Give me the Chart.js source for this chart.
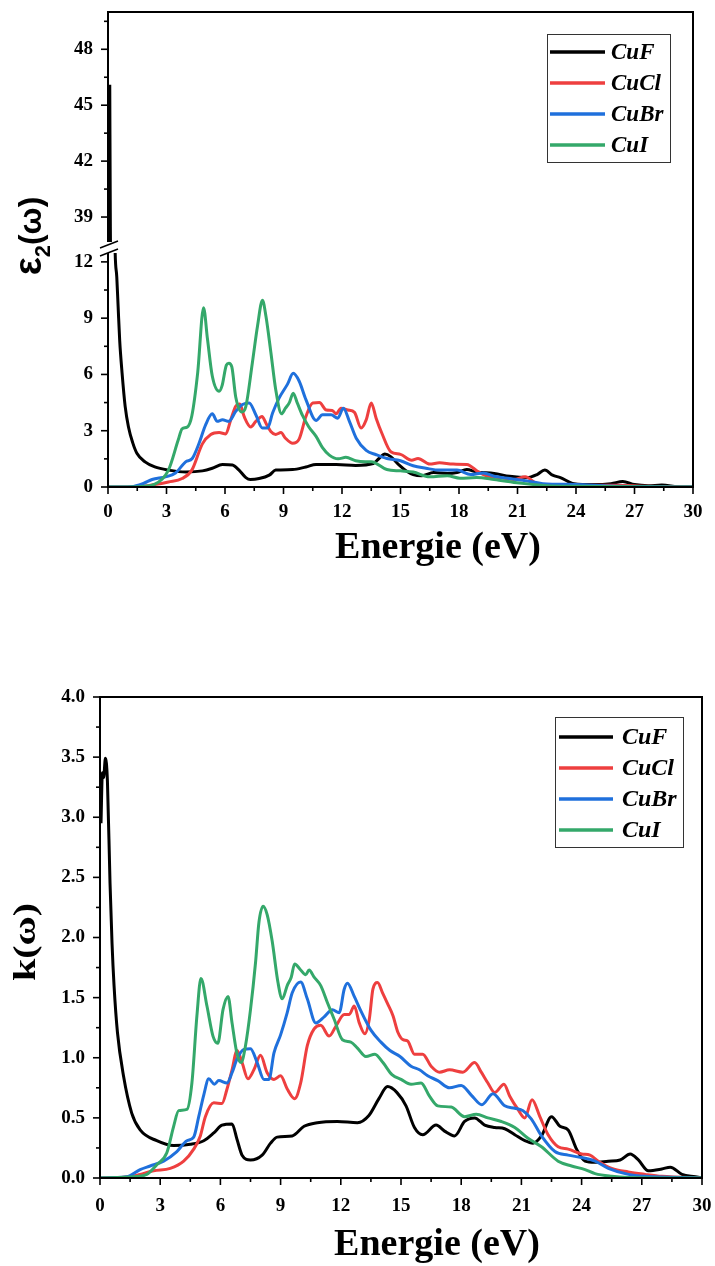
<!DOCTYPE html>
<html>
<head>
<meta charset="utf-8">
<script src="https://cdn.jsdelivr.net/npm/chart.js@4.4.1/dist/chart.umd.min.js"></script>
<style>
html,body{margin:0;padding:0;background:#fff;}
#wrap{position:relative;width:715px;height:1266px;overflow:hidden;}
.box{position:absolute;left:0;width:715px;}
</style>
</head>
<body>
<div id="wrap">
  <div class="box" style="top:0;height:600px"><canvas id="c1"></canvas></div>
  <div class="box" style="top:600px;height:666px"><canvas id="c2"></canvas></div>
</div>
<script>
// ---------------- DATA ----------------
const categories = ['CuF', 'CuCl', 'CuBr', 'CuI'];
const seriesColors = ['#000000', '#EE3F3F', '#1F70DC', '#34A86A'];

// epsilon_2 (upper chart): [energy eV, value]
const eps2_CuF = [[0.09,46.1],[0.12,38.5],[0.22,25],[0.36,12.8],[0.45,11.2],[0.52,9.6],[0.6,7.8],[0.72,6.1],[0.88,4.3],[1.05,3.2],[1.27,2.35],[1.48,1.8],[1.9,1.34],[2.4,1.07],[3.1,0.9],[4.0,0.8],[4.84,0.86],[5.35,1.0],[5.87,1.2],[6.38,1.17],[6.72,0.9],[7.07,0.5],[7.3,0.4],[7.75,0.45],[8.27,0.63],[8.6,0.9],[9.47,0.93],[10.15,1.07],[10.67,1.2],[11.7,1.2],[12.7,1.15],[13.6,1.25],[13.9,1.52],[14.2,1.76],[14.5,1.62],[14.95,1.15],[15.3,0.85],[15.65,0.66],[16.1,0.6],[16.7,0.77],[17.4,0.72],[17.9,0.77],[18.4,0.93],[18.9,0.8],[19.8,0.72],[20.6,0.57],[21.5,0.5],[22.0,0.66],[22.4,0.9],[22.8,0.63],[23.2,0.5],[23.9,0.18],[24.9,0.13],[25.8,0.18],[26.4,0.29],[27.0,0.13],[27.7,0.07],[28.4,0.1],[29.2,0.02],[30,0]];
const eps2_CuCl = [[0,0],[1.6,0.02],[2.4,0.13],[3.1,0.27],[3.8,0.45],[4.3,0.9],[4.84,2.3],[5.27,2.8],[5.7,2.9],[6.04,2.83],[6.3,3.6],[6.55,4.3],[6.76,4.43],[6.98,3.76],[7.32,3.2],[7.58,3.5],[7.9,3.76],[8.1,3.4],[8.35,2.96],[8.6,2.8],[8.87,2.9],[9.1,2.6],[9.47,2.33],[9.8,2.55],[10.15,3.76],[10.5,4.48],[10.84,4.5],[11.2,4.1],[11.5,4.08],[11.7,3.9],[11.95,4.2],[12.3,4.1],[12.64,3.98],[12.98,3.14],[13.24,3.58],[13.5,4.48],[13.75,3.67],[14.05,2.85],[14.5,1.88],[15.0,1.74],[15.57,1.43],[15.9,1.52],[16.5,1.22],[17.0,1.29],[17.7,1.22],[18.4,1.2],[19.0,0.8],[19.4,0.6],[20.1,0.5],[20.8,0.4],[21.4,0.54],[22.0,0.18],[23.2,0.07],[24.9,0.09],[26.1,0.09],[27.5,0.04],[30,0]];
const eps2_CuBr = [[0,0],[1.2,0.02],[1.84,0.2],[2.26,0.4],[2.95,0.54],[3.46,0.75],[3.98,1.34],[4.32,1.52],[4.67,2.33],[5.0,3.3],[5.35,3.9],[5.6,3.5],[5.87,3.58],[6.2,3.5],[6.55,4.03],[6.9,4.4],[7.24,4.48],[7.58,3.85],[7.92,3.14],[8.18,3.14],[8.44,3.94],[8.78,4.75],[9.2,5.47],[9.5,6.06],[9.8,5.65],[10.15,4.66],[10.67,3.55],[11.0,3.85],[11.44,3.85],[11.78,3.67],[12.07,4.2],[12.38,3.5],[12.73,2.6],[13.24,1.95],[13.75,1.72],[14.3,1.52],[15.0,1.4],[15.65,1.13],[16.3,1.0],[17.0,0.9],[17.9,0.9],[18.6,0.66],[19.25,0.75],[19.8,0.57],[20.6,0.45],[21.5,0.32],[22.3,0.18],[24.0,0.13],[25.8,0.05],[27.5,0.02],[30,0]];
const eps2_CuI = [[0,0],[1.6,0.02],[2.4,0.15],[3.1,0.9],[3.6,2.5],[3.8,3.1],[4.07,3.2],[4.3,3.8],[4.6,6.1],[4.9,9.55],[5.1,7.9],[5.35,5.9],[5.7,5.1],[5.85,5.4],[6.07,6.5],[6.2,6.6],[6.35,6.4],[6.55,4.8],[6.86,4.0],[7.07,4.3],[7.4,6.6],[7.67,8.6],[7.92,9.95],[8.1,9.1],[8.35,7.2],[8.6,5.2],[8.9,3.9],[9.1,4.2],[9.3,4.5],[9.5,5.0],[9.7,4.5],[9.98,3.8],[10.3,3.2],[10.67,2.7],[11.0,2.1],[11.35,1.7],[11.8,1.5],[12.2,1.58],[12.7,1.4],[13.2,1.35],[13.5,1.35],[14.3,0.93],[15.0,0.86],[15.65,0.8],[16.5,0.54],[17.4,0.6],[18.05,0.47],[18.9,0.5],[19.8,0.4],[21.1,0.21],[22.5,0.07],[24,0.04],[27,0.01],[30,0]];

// k (lower chart): [energy eV, value]
const k_CuF = [[0.05,2.95],[0.12,3.37],[0.18,3.33],[0.27,3.49],[0.37,3.3],[0.5,2.45],[0.6,1.95],[0.7,1.6],[0.87,1.21],[1.17,0.85],[1.58,0.54],[2.0,0.4],[2.83,0.31],[3.67,0.27],[4.5,0.28],[5.17,0.31],[5.67,0.375],[6.08,0.44],[6.58,0.45],[6.83,0.32],[7.08,0.19],[7.5,0.15],[8.08,0.19],[8.5,0.29],[8.83,0.34],[9.58,0.35],[10.17,0.43],[10.83,0.46],[11.83,0.47],[12.83,0.46],[13.4,0.52],[13.9,0.66],[14.33,0.76],[14.8,0.71],[15.25,0.6],[15.67,0.42],[16.08,0.36],[16.75,0.44],[17.17,0.39],[17.67,0.35],[18.17,0.47],[18.67,0.5],[19.17,0.44],[19.67,0.42],[20.17,0.41],[20.67,0.36],[21.17,0.31],[21.58,0.29],[22.0,0.35],[22.5,0.51],[22.92,0.43],[23.33,0.4],[23.75,0.24],[24.17,0.14],[24.67,0.13],[25.33,0.14],[25.92,0.15],[26.42,0.2],[26.83,0.15],[27.33,0.06],[28.0,0.075],[28.42,0.09],[29.0,0.03],[29.67,0.01],[30,0]];
const k_CuCl = [[0,0],[1.5,0.01],[2.0,0.03],[2.67,0.06],[3.5,0.08],[4.17,0.14],[4.67,0.24],[5.0,0.35],[5.25,0.51],[5.67,0.625],[6.08,0.62],[6.33,0.74],[6.58,0.9],[6.83,1.06],[7.08,0.96],[7.37,0.825],[7.67,0.9],[8.0,1.02],[8.33,0.875],[8.67,0.82],[9.0,0.85],[9.33,0.74],[9.7,0.66],[10.0,0.79],[10.33,1.1],[10.67,1.24],[11.0,1.27],[11.42,1.18],[11.75,1.26],[12.17,1.36],[12.42,1.36],[12.67,1.43],[12.92,1.29],[13.2,1.2],[13.42,1.32],[13.6,1.57],[13.83,1.625],[14.08,1.54],[14.33,1.45],[14.6,1.35],[14.85,1.21],[15.1,1.15],[15.33,1.14],[15.67,1.03],[16.08,1.03],[16.5,0.93],[16.92,0.88],[17.42,0.9],[18.08,0.88],[18.67,0.96],[19.0,0.88],[19.33,0.79],[19.67,0.71],[20.13,0.78],[20.42,0.68],[20.83,0.57],[21.17,0.5],[21.53,0.65],[21.92,0.51],[22.33,0.36],[22.83,0.26],[23.33,0.24],[24.0,0.2],[24.42,0.19],[24.83,0.14],[25.5,0.08],[26.33,0.05],[27.17,0.03],[28.0,0.014],[30,0]];
const k_CuBr = [[0,0],[1.33,0.01],[2.0,0.07],[2.5,0.1],[3.17,0.14],[3.83,0.22],[4.33,0.31],[4.67,0.34],[4.92,0.51],[5.17,0.69],[5.42,0.825],[5.7,0.78],[5.92,0.81],[6.33,0.79],[6.58,0.875],[6.83,0.99],[7.17,1.07],[7.5,1.075],[7.83,0.96],[8.17,0.82],[8.42,0.82],[8.67,1.04],[9.0,1.19],[9.33,1.375],[9.58,1.54],[10.0,1.63],[10.33,1.49],[10.75,1.29],[11.17,1.34],[11.58,1.4],[11.92,1.375],[12.17,1.57],[12.33,1.62],[12.67,1.51],[13.0,1.39],[13.5,1.23],[14.0,1.13],[14.45,1.06],[14.95,1.01],[15.5,0.93],[15.92,0.9],[16.33,0.85],[16.83,0.81],[17.42,0.75],[18.0,0.77],[18.5,0.69],[19.03,0.61],[19.58,0.7],[20.17,0.6],[20.67,0.58],[21.08,0.56],[21.5,0.49],[22.0,0.35],[22.67,0.22],[23.33,0.19],[24.0,0.17],[24.67,0.14],[25.33,0.08],[26.33,0.03],[27.17,0.014],[30,0]];
const k_CuI = [[0,0],[1.67,0.01],[2.33,0.03],[2.83,0.11],[3.33,0.21],[3.67,0.43],[3.92,0.56],[4.33,0.57],[4.58,0.79],[4.83,1.35],[5.03,1.66],[5.33,1.43],[5.63,1.18],[5.87,1.12],[6.13,1.4],[6.38,1.51],[6.58,1.29],[6.83,1.03],[7.03,0.96],[7.25,1.1],[7.5,1.4],[7.75,1.79],[7.92,2.125],[8.13,2.26],[8.33,2.19],[8.58,1.97],[8.87,1.625],[9.08,1.49],[9.33,1.6],[9.53,1.67],[9.7,1.78],[10.0,1.73],[10.25,1.69],[10.42,1.73],[10.67,1.67],[11.0,1.6],[11.33,1.46],[11.67,1.32],[12.08,1.15],[12.5,1.13],[12.83,1.08],[13.25,1.01],[13.7,1.03],[14.1,0.96],[14.55,0.86],[15.0,0.82],[15.5,0.78],[16.0,0.79],[16.42,0.68],[16.83,0.6],[17.5,0.59],[18.17,0.51],[18.75,0.53],[19.33,0.5],[20.0,0.47],[20.67,0.42],[21.33,0.33],[22.0,0.26],[22.83,0.14],[23.5,0.1],[24.17,0.07],[24.67,0.036],[25.5,0.014],[26.33,0.005],[30,0]];

// tick labels
const xTickLabels = [0, 3, 6, 9, 12, 15, 18, 21, 24, 27, 30];
const epsTickLabels = [0, 3, 6, 9, 12, 39, 42, 45, 48];
const kTickLabels = [0, 0.5, 1, 1.5, 2, 2.5, 3, 3.5, 4];

// ---------------- HELPERS ----------------
const SERIF = "'Liberation Serif','Times New Roman',serif";
const SANS = "'Liberation Sans',Arial,sans-serif";
Chart.defaults.font.family = SERIF;
Chart.defaults.color = '#000';

function inList(v, list) { return list.some(l => Math.abs(l - v) < 1e-6); }
function isStep(v, s) { const r = v / s; return Math.abs(r - Math.round(r)) < 1e-6; }
function toPts(a) { return a.map(p => ({ x: p[0], y: p[1] })); }
function seg(ctx, x1, y1, x2, y2) { ctx.beginPath(); ctx.moveTo(x1, y1); ctx.lineTo(x2, y2); ctx.stroke(); }

function makeDs(i, pts, axis, skip) {
  return {
    label: categories[i], data: toPts(pts), yAxisID: axis,
    borderColor: seriesColors[i], backgroundColor: seriesColors[i],
    borderWidth: 3, pointRadius: 0, fill: false,
    cubicInterpolationMode: 'monotone', order: 4 - i, legendSkip: !!skip
  };
}

const decoPlugin = {
  id: 'deco',
  beforeDatasetDraw(chart, args, o) {
    const ds = chart.data.datasets[args.index];
    const s = chart.scales[ds.yAxisID];
    const ca = chart.chartArea;
    const ins = (o.clipInset && o.clipInset[ds.yAxisID]) || [0, 0];
    const ctx = chart.ctx;
    ctx.save();
    ctx.beginPath();
    ctx.rect(ca.left, s.top + ins[0], ca.right - ca.left, (s.bottom - ins[1]) - (s.top + ins[0]));
    ctx.clip();
  },
  afterDatasetDraw(chart) { chart.ctx.restore(); },
  afterDraw(chart, args, o) {
    const ctx = chart.ctx, ca = chart.chartArea;
    ctx.save();
    ctx.strokeStyle = '#000'; ctx.fillStyle = '#000';
    // ticks
    ctx.lineWidth = 1.6;
    const xs = chart.scales.x;
    xs.ticks.forEach(t => {
      if (!isStep(t.value, o.xStep)) return;
      const px = xs.getPixelForValue(t.value);
      const L = inList(t.value, xTickLabels) ? 7 : 4;
      seg(ctx, px, ca.bottom, px, ca.bottom + L);
    });
    o.yAxes.forEach(id => {
      const s = chart.scales[id];
      s.ticks.forEach(t => {
        if (!isStep(t.value, o.yStep)) return;
        if (o.skipMin && o.skipMin === id && Math.abs(t.value - s.min) < 1e-6) return;
        const py = s.getPixelForValue(t.value);
        const L = inList(t.value, o.yLabels) ? 7 : 4;
        seg(ctx, ca.left - L, py, ca.left, py);
      });
    });
    // frame
    ctx.lineWidth = 2;
    seg(ctx, ca.left, ca.top, ca.right + 1, ca.top);
    seg(ctx, ca.right, ca.top, ca.right, ca.bottom);
    seg(ctx, ca.left - 1, ca.bottom, ca.right + 1, ca.bottom);
    if (o.breakAxis) {
      const yb = chart.scales[o.breakAxis].bottom;
      seg(ctx, ca.left, ca.top - 1, ca.left, yb - 3);
      seg(ctx, ca.left, yb + 8, ca.left, ca.bottom + 1);
      ctx.lineWidth = 1.5;
      seg(ctx, ca.left - 8, yb + 3, ca.left + 10, yb - 4);
      seg(ctx, ca.left - 8, yb + 11, ca.left + 10, yb + 4);
    } else {
      seg(ctx, ca.left, ca.top - 1, ca.left, ca.bottom + 1);
    }
    // x title
    ctx.fillStyle = '#000';
    ctx.font = o.xTitle.font; ctx.textAlign = 'center'; ctx.textBaseline = 'alphabetic';
    ctx.fillText(o.xTitle.text, o.xTitle.x, o.xTitle.y);
    // y title (rotated, in parts for subscript)
    ctx.save();
    ctx.translate(o.yTitle.x, o.yTitle.y);
    ctx.rotate(-Math.PI / 2);
    ctx.scale(o.yTitle.stretch || 1, 1);
    ctx.textAlign = 'left';
    let total = 0;
    o.yTitle.parts.forEach(p => { ctx.font = p.font; p.w = ctx.measureText(p.text).width; total += p.w; });
    let cx = -total / 2;
    o.yTitle.parts.forEach(p => { ctx.font = p.font; ctx.fillText(p.text, cx, p.dy || 0); cx += p.w; });
    ctx.restore();
    // legend
    const L = o.legend;
    ctx.lineWidth = 1; ctx.strokeStyle = '#333';
    ctx.strokeRect(L.x + 0.5, L.y + 0.5, L.w, L.h);
    let k = 0;
    chart.data.datasets.forEach(ds => {
      if (ds.legendSkip) return;
      const yy = L.y + L.first + k * L.gap;
      ctx.strokeStyle = ds.borderColor; ctx.lineWidth = 3.5;
      seg(ctx, L.x + L.l1, yy, L.x + L.l2, yy);
      ctx.fillStyle = '#000'; ctx.font = L.font; ctx.textBaseline = 'middle'; ctx.textAlign = 'left';
      ctx.fillText(ds.label, L.x + L.tx, yy + 1);
      k++;
    });
    ctx.restore();
  }
};

const tickFont = { family: SERIF, size: 19, weight: 'bold' };
const hiddenGrid = { display: true, drawOnChartArea: false, drawTicks: true, tickLength: 7, color: 'rgba(0,0,0,0)', tickColor: 'rgba(0,0,0,0)' };

function fixY(w) { return s => { s.width = w; s.paddingTop = 0; s.paddingBottom = 0; }; }
function xScale(h, pad) {
  return {
    type: 'linear', position: 'bottom', min: 0, max: 30, bounds: 'data',
    ticks: { stepSize: 1.5, autoSkip: false, maxRotation: 0, padding: pad, font: tickFont, color: '#000',
      callback: v => inList(v, xTickLabels) ? String(Math.round(v)) : '' },
    grid: hiddenGrid, border: { display: false },
    afterFit: s => { s.height = h; s.paddingLeft = 0; s.paddingRight = 0; }
  };
}

// ---------------- CHART 1: epsilon_2 ----------------
new Chart(document.getElementById('c1'), {
  type: 'line',
  data: {
    datasets: [
      makeDs(0, eps2_CuF, 'yLow'),
      makeDs(1, eps2_CuCl, 'yLow'),
      makeDs(2, eps2_CuBr, 'yLow'),
      makeDs(3, eps2_CuI, 'yLow'),
      makeDs(0, eps2_CuF, 'yHigh', true)
    ]
  },
  options: {
    responsive: true, maintainAspectRatio: false, animation: false, events: [],
    layout: { padding: { left: 0, top: 12, right: 22, bottom: 0 } },
    plugins: {
      legend: { display: false }, tooltip: { enabled: false },
      deco: {
        xStep: 1.5, yStep: 1.5, yAxes: ['yHigh', 'yLow'], yLabels: epsTickLabels,
        skipMin: 'yHigh', breakAxis: 'yHigh',
        clipInset: { yHigh: [0, 3], yLow: [8, 0] },
        xTitle: { text: 'Energie (eV)', x: 438, y: 558, font: 'bold 38px ' + SERIF },
        yTitle: { x: 41, y: 236, parts: [
          { text: 'ε', font: 'bold 38px ' + SANS },
          { text: '2', font: 'bold 22px ' + SANS, dy: 9 },
          { text: '(ω)', font: 'bold 32px ' + SANS }
        ] },
        legend: { x: 547, y: 34, w: 123, h: 128, first: 18, gap: 31, l1: 3, l2: 58, tx: 64, font: 'italic bold 23px ' + SERIF }
      }
    },
    scales: {
      x: xScale(113, 7),
      yHigh: {
        type: 'linear', position: 'left', stack: 'eps', stackWeight: 233, weight: 1,
        min: 37.5, max: 50, bounds: 'data',
        ticks: { stepSize: 1.5, includeBounds: false, autoSkip: false, padding: 8, font: tickFont, color: '#000',
          callback: v => inList(v, epsTickLabels) ? String(Math.round(v)) : '' },
        grid: hiddenGrid, border: { display: false },
        afterFit: fixY(108)
      },
      yLow: {
        type: 'linear', position: 'left', stack: 'eps', stackWeight: 242, weight: 0,
        min: 0, max: 12.9, bounds: 'data',
        ticks: { stepSize: 1.5, includeBounds: false, autoSkip: false, padding: 8, font: tickFont, color: '#000',
          callback: v => inList(v, epsTickLabels) ? String(Math.round(v)) : '' },
        grid: hiddenGrid, border: { display: false },
        afterFit: fixY(108)
      }
    }
  },
  plugins: [decoPlugin]
});

// ---------------- CHART 2: k ----------------
new Chart(document.getElementById('c2'), {
  type: 'line',
  data: {
    datasets: [
      makeDs(0, k_CuF, 'y'),
      makeDs(1, k_CuCl, 'y'),
      makeDs(2, k_CuBr, 'y'),
      makeDs(3, k_CuI, 'y')
    ]
  },
  options: {
    responsive: true, maintainAspectRatio: false, animation: false, events: [],
    layout: { padding: { left: 0, top: 97, right: 13, bottom: 0 } },
    plugins: {
      legend: { display: false }, tooltip: { enabled: false },
      deco: {
        xStep: 1.5, yStep: 0.25, yAxes: ['y'], yLabels: kTickLabels,
        xTitle: { text: 'Energie (eV)', x: 437, y: 655, font: 'bold 38px ' + SERIF },
        yTitle: { x: 35, y: 342, stretch: 1.25, parts: [
          { text: 'k(ω)', font: 'bold 32px ' + SERIF }
        ] },
        legend: { x: 555, y: 117, w: 128, h: 130, first: 20, gap: 31, l1: 4, l2: 58, tx: 67, font: 'italic bold 24px ' + SERIF }
      }
    },
    scales: {
      x: xScale(88, 10),
      y: {
        type: 'linear', position: 'left', min: 0, max: 4, bounds: 'data',
        ticks: { stepSize: 0.25, autoSkip: false, padding: 8, font: tickFont, color: '#000',
          callback: v => inList(v, kTickLabels) ? v.toFixed(1) : '' },
        grid: hiddenGrid, border: { display: false },
        afterFit: fixY(100)
      }
    }
  },
  plugins: [decoPlugin]
});
</script>
</body>
</html>
